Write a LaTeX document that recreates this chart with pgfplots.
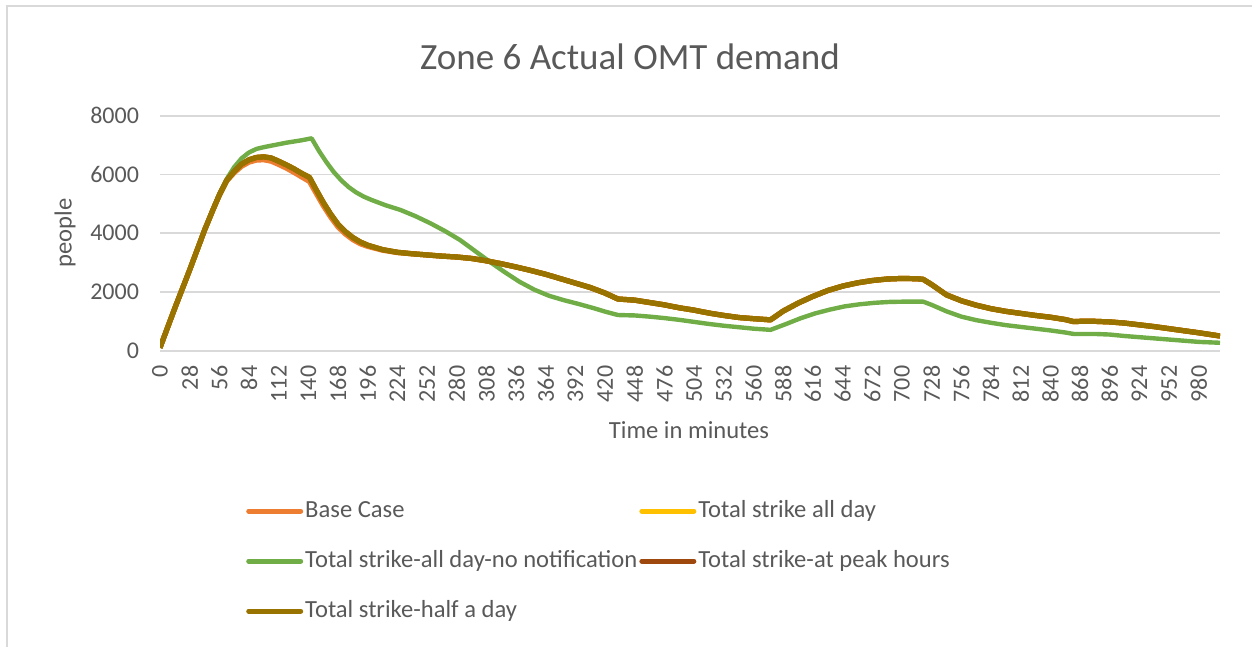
\documentclass[border=0pt]{standalone}
\usepackage{pgfplots}
\usepackage{pgfplotstable}
\pgfplotsset{compat=1.18}
\usepackage{fontspec}
\setmainfont{Carlito}
\definecolor{cBase}{HTML}{ED7D31}
\definecolor{cAll}{HTML}{FFC000}
\definecolor{cNoN}{HTML}{70AD47}
\definecolor{cPeak}{HTML}{9E480E}
\definecolor{cHalf}{HTML}{997300}
\definecolor{txt}{HTML}{595959}
\definecolor{grd}{HTML}{D9D9D9}

% t, Base Case, Total strike all day, Total strike-at peak hours, Total strike-half a day
\pgfplotstableread{
t B A P H
0 100 100 100 100
14 1450 1450 1450 1450
28 2750 2750 2750 2750
42 4100 4100 4100 4100
50 4800 4800 4800 4800
56 5300 5300 5300 5300
63 5780 5800 5800 5800
70 6060 6100 6100 6100
77 6280 6350 6350 6350
84 6420 6500 6500 6500
91 6490 6580 6580 6580
98 6500 6600 6600 6600
105 6450 6560 6560 6560
112 6340 6450 6450 6450
119 6220 6330 6330 6330
126 6080 6200 6200 6200
133 5930 6050 6050 6050
141 5760 5900 5900 5900
147 5380 5500 5500 5500
154 4940 5050 5050 5050
161 4550 4650 4650 4650
168 4210 4300 4300 4300
175 3970 4050 4050 4050
182 3780 3850 3850 3850
189 3640 3700 3700 3700
196 3550 3590 3590 3590
210 3420 3440 3440 3440
224 3340 3350 3350 3350
238 3300 3300 3300 3300
252 3260 3260 3260 3260
266 3220 3220 3220 3220
280 3190 3190 3190 3190
294 3140 3140 3140 3140
308 3060 3060 3060 3060
322 2960 2960 2960 2960
336 2850 2850 2850 2850
350 2730 2730 2730 2730
364 2600 2600 2600 2600
378 2450 2450 2450 2450
392 2300 2300 2300 2300
406 2150 2150 2150 2150
420 1960 1960 1960 1960
432 1760 1760 1760 1760
448 1720 1720 1720 1720
462 1640 1640 1640 1640
476 1560 1560 1560 1560
490 1460 1460 1460 1460
504 1380 1380 1380 1380
518 1280 1280 1280 1280
532 1200 1200 1200 1200
546 1130 1130 1130 1130
560 1090 1090 1090 1090
576 1050 1050 1050 1050
588 1350 1350 1350 1350
602 1620 1620 1620 1620
616 1850 1850 1850 1850
630 2050 2050 2050 2050
644 2200 2200 2200 2200
658 2310 2310 2310 2310
672 2390 2390 2390 2390
686 2440 2440 2440 2440
700 2460 2460 2460 2460
714 2450 2450 2450 2450
720 2430 2430 2430 2430
728 2250 2250 2250 2250
742 1900 1900 1900 1900
756 1700 1700 1700 1700
770 1550 1550 1550 1550
784 1430 1430 1430 1430
798 1340 1340 1340 1340
812 1270 1270 1270 1270
826 1200 1200 1200 1200
840 1140 1140 1140 1140
854 1060 1060 1060 1060
862 990 990 990 990
868 1000 1000 1000 1000
882 1000 1000 1000 1000
896 980 980 980 980
910 940 940 940 940
924 880 880 880 880
938 820 820 820 820
952 750 750 750 750
966 680 680 680 680
980 610 610 610 610
1000 500 500 500 500
}\dataA

% Total strike-all day-no notification
\pgfplotstableread{
t G
0 100
14 1450
28 2750
42 4100
56 5350
63 5850
70 6250
77 6550
84 6750
91 6870
98 6930
105 6980
112 7030
119 7080
126 7120
133 7160
143 7230
150 6800
157 6420
164 6080
171 5800
178 5570
185 5390
192 5250
199 5140
213 4950
227 4790
241 4580
255 4340
269 4070
283 3770
297 3400
311 3030
325 2680
339 2350
353 2080
367 1870
381 1720
395 1590
409 1450
420 1330
432 1215
448 1200
462 1160
476 1110
490 1050
504 980
518 910
532 850
546 800
560 750
576 710
590 900
604 1100
618 1270
632 1400
646 1510
660 1580
674 1630
688 1660
702 1670
720 1670
728 1560
742 1340
756 1160
770 1040
784 950
798 870
812 810
826 750
840 690
854 620
862 570
882 570
896 550
910 500
924 460
938 420
952 380
966 340
980 300
1000 270
}\dataG

\begin{document}
\begin{tikzpicture}
\useasboundingbox (0,0) rectangle (626pt,-323.5pt);
\draw[grd, line width=0.6pt] (3.5pt,-323.5pt) -- (3.5pt,-3pt) -- (626pt,-3pt);
\begin{axis}[
  at={(80pt,-175.35pt)}, anchor=south west,
  scale only axis, width=530pt, height=117.5pt,
  xmin=0, xmax=1000, ymin=0, ymax=8000,
  xtick={0,28,...,980}, ytick={0,2000,...,8000},
  major tick length=0pt,
  ymajorgrids, grid style={grd, line width=0.9pt},
  axis x line*=bottom, axis y line*=left,
  x axis line style={grd, line width=0.9pt, -},
  y axis line style={draw=none},
  /pgf/number format/assume math mode=true,
  /pgf/number format/set thousands separator={},
  tick label style={font=\fontsize{12}{13}\selectfont, text=txt},
  xticklabel style={rotate=90, anchor=east, yshift=0pt, xshift=-4pt},
  yticklabel style={xshift=-7pt},
  legend columns=2,
  legend cell align=left,
  legend style={at={(0.0753,-0.6085)}, anchor=north west, draw=none, fill=none,
    font=\fontsize{12.3}{13}\selectfont, text=txt, row sep=12pt,
    nodes={inner sep=1pt, text height=8.5pt, text depth=2.5pt},
    /tikz/every even column/.append style={column sep=0pt}},
  legend image code/.code={\draw[#1, line width=2.5pt, line cap=round] (0pt,0pt) -- (26pt,0pt);},
  every axis plot/.append style={line width=2.6pt, line join=round},
]
\addplot[cBase] table[x=t, y=B] {\dataA};
\addlegendentry{Base Case}
\addplot[cAll] table[x=t, y=A] {\dataA};
\addlegendentry{Total strike all day}
\addplot[cNoN, line width=2.2pt] table[x=t, y=G] {\dataG};
\addlegendentry{Total strike-all day-no notification}
\addplot[cPeak] table[x=t, y=P] {\dataA};
\addlegendentry{Total strike-at peak hours}
\addplot[cHalf] table[x=t, y=H] {\dataA};
\addlegendentry{Total strike-half a day}
\end{axis}
\node[text=txt, font=\fontsize{18.5}{22}\selectfont] at (315pt,-28.5pt) {Zone 6 Actual OMT demand};
\node[text=txt, font=\fontsize{12.3}{13}\selectfont] at (344.5pt,-215pt) {Time in minutes};
\node[text=txt, font=\fontsize{12.3}{13}\selectfont, rotate=90] at (32.5pt,-116.5pt) {people};
\end{tikzpicture}
\end{document}
